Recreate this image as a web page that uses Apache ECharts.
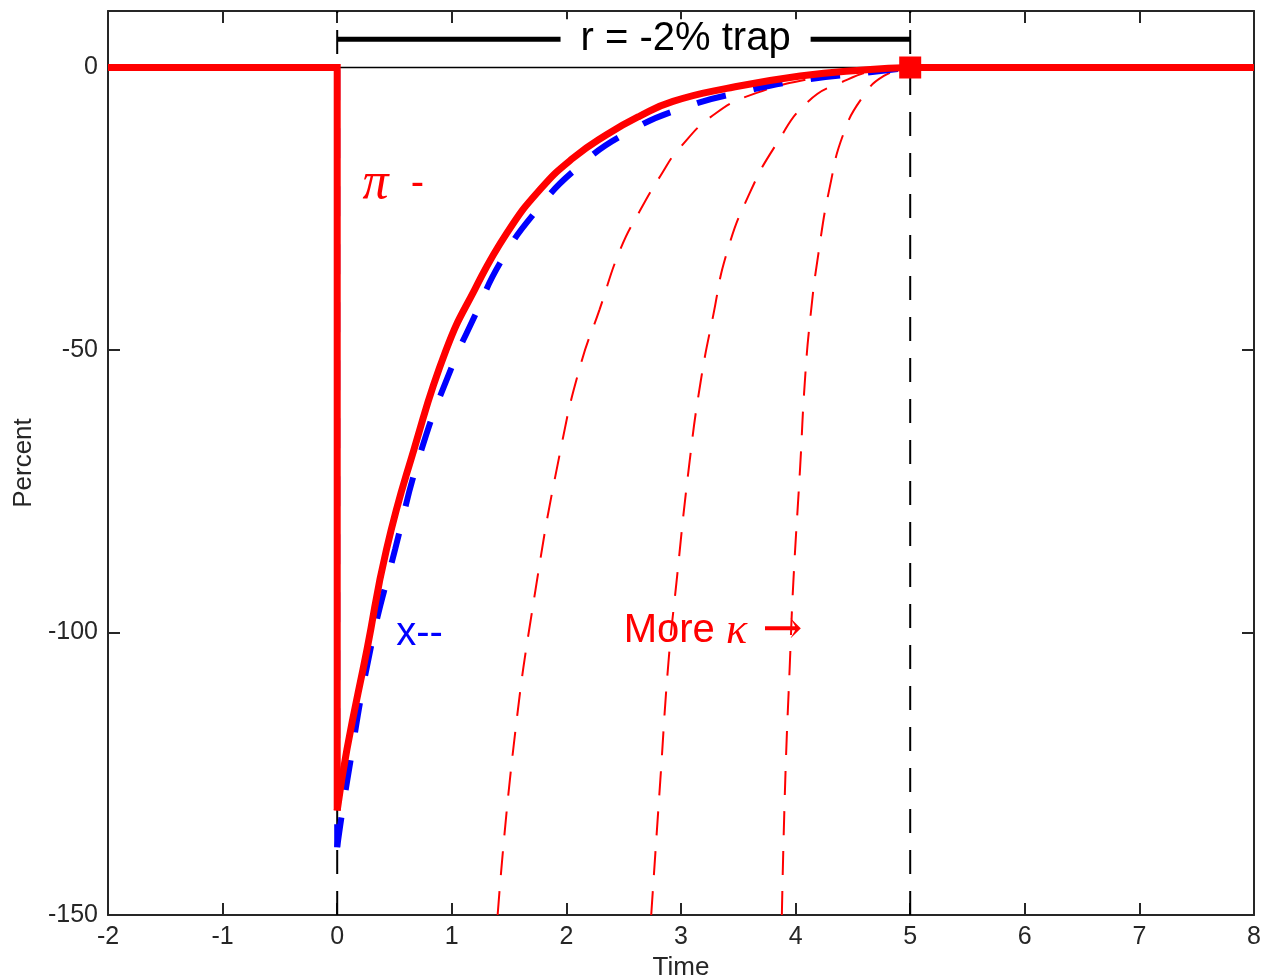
<!DOCTYPE html>
<html>
<head>
<meta charset="utf-8">
<script src="https://cdn.jsdelivr.net/npm/echarts@6/dist/echarts.min.js"></script>
<style>
  html, body { margin: 0; padding: 0; background: #fff; }
  #chart { width: 1264px; height: 976px; }
</style>
</head>
<body>
<div id="chart"></div>
<script>
(function () {
  // axis setup
  const xTicks = [-2, 8, 1];
  const yTicks = [-150, 10, 50];

  // pi (red solid), after the shock at t = 0
  const piX = [0, 0.085, 0.26, 0.43, 0.67, 0.95, 1.20, 1.48, 1.77, 2.06, 2.35, 2.64, 2.93, 3.4, 4.04, 4.62, 5];
  const piY = [-131.5, -120.7, -103, -85.3, -67.6, -50, -39.3, -29.3, -21.6, -16.0, -11.9, -8.6, -6.0, -3.7, -1.5, -0.4, 0];

  // x (blue dashed)
  const gapX = [0, 0.085, 0.29, 0.505, 0.73, 1.0, 1.20, 1.43, 1.74, 2.11, 2.55, 3.04, 3.56, 4.08, 4.62, 5];
  const gapY = [-138, -126.5, -103, -85.3, -68, -53, -44, -34.3, -25.3, -17.5, -11.3, -7.0, -4.2, -2.2, -0.9, 0];

  // pi for more kappa (thin red dashed)
  const k1X = [1.40, 1.54, 1.73, 1.95, 2.12, 2.29, 2.47, 2.64, 2.82, 2.99, 3.31, 3.66, 4.10, 4.62, 5];
  const k1Y = [-150, -120, -92.5, -67.6, -52.9, -42.8, -32.2, -25.4, -19.2, -14.2, -8.0, -4.5, -2.1, -0.35, 0];
  const k2X = [2.74, 2.82, 2.89, 2.96, 3.07, 3.17, 3.28, 3.40, 3.60, 3.84, 4.10, 4.39, 4.76, 5];
  const k2Y = [-150, -126, -105.4, -91.2, -70.6, -55.8, -44.0, -32.8, -22.2, -13.3, -6.2, -2.7, -0.35, 0];
  const k3X = [3.88, 3.91, 3.95, 3.98, 4.04, 4.08, 4.13, 4.20, 4.30, 4.42, 4.59, 4.77, 5];
  const k3Y = [-150, -126, -105.4, -91.2, -70.6, -55.8, -44.0, -32.8, -21.0, -11.6, -5.1, -1.5, 0];

  // steady state before / after the trap
  const beforeX = [-2, 0];
  const afterX = [5, 8];
  const steady = 0;
  const trapStart = 0;
  const trapEnd = 5;
  const trapBarY = 5;

  const axisColor = '#262626';
  const sans = '"Liberation Sans", Arial, Helvetica, sans-serif';
  const serif = '"Liberation Serif", "DejaVu Serif", serif';
  const arrowFont = '"DejaVu Serif", serif';

  function pairs(xs, ys) {
    return xs.map((x, i) => [x, ys[i]]);
  }

  function labelPoint(x, y, text, color, align, extra) {
    return {
      type: 'scatter',
      silent: true,
      z: 20,
      symbolSize: 1,
      itemStyle: { color: 'rgba(0,0,0,0)', opacity: 1 },
      data: [[x, y]],
      label: Object.assign({
        show: true,
        position: 'inside',
        align: align,
        verticalAlign: 'middle',
        formatter: text,
        color: color,
        opacity: 1,
        fontFamily: sans,
        fontSize: 40
      }, extra || {})
    };
  }

  const tickStyle = { inside: true, length: 12, lineStyle: { color: axisColor, width: 2 } };
  const lineAxis = { onZero: false, lineStyle: { color: axisColor, width: 2 } };

  const baseX = {
    type: 'value',
    min: xTicks[0],
    max: xTicks[1],
    interval: xTicks[2],
    splitLine: { show: false },
    axisLine: lineAxis,
    axisTick: tickStyle
  };
  const baseY = {
    type: 'value',
    min: yTicks[0],
    max: yTicks[1],
    interval: yTicks[2],
    splitLine: { show: false },
    axisLine: lineAxis,
    axisTick: tickStyle
  };

  const thinDash = { color: '#ff0000', width: 2, type: [24, 16] };
  const blueDash = { color: '#0000ff', width: 6, type: [30, 28] };
  const redSolid = { color: '#ff0000', width: 7 };
  const smooth = 0.5;

  const option = {
    animation: false,
    backgroundColor: '#fff',
    grid: { left: 108, right: 10, top: 11, bottom: 61, outerBoundsMode: 'none' },
    xAxis: [
      Object.assign({}, baseX, {
        position: 'bottom',
        name: 'Time',
        nameLocation: 'middle',
        nameGap: 33,
        nameTextStyle: { color: axisColor, fontFamily: sans, fontSize: 26 },
        axisLabel: { color: axisColor, fontFamily: sans, fontSize: 25, margin: 10 }
      }),
      Object.assign({}, baseX, { position: 'top', axisLabel: { show: false } })
    ],
    yAxis: [
      Object.assign({}, baseY, {
        position: 'left',
        name: 'Percent',
        nameLocation: 'middle',
        nameGap: 70,
        nameTextStyle: { color: axisColor, fontFamily: sans, fontSize: 26 },
        axisLabel: { color: axisColor, fontFamily: sans, fontSize: 25, margin: 10, showMaxLabel: false }
      }),
      Object.assign({}, baseY, { position: 'right', axisLabel: { show: false } })
    ],
    series: [
      // trap window edges
      {
        type: 'line', symbol: 'none', silent: true, z: 1,
        data: [[trapStart, yTicks[0]], [trapStart, yTicks[1]]],
        lineStyle: { color: '#000', width: 2, type: [24, 17] }
      },
      {
        type: 'line', symbol: 'none', silent: true, z: 1,
        data: [[trapEnd, yTicks[0]], [trapEnd, yTicks[1]]],
        lineStyle: { color: '#000', width: 2, type: [24, 17] }
      },
      {
        type: 'line', symbol: 'none', silent: true, z: 1,
        data: [[trapStart, steady], [trapEnd, steady]],
        lineStyle: { color: '#000', width: 1.5 }
      },
      {
        type: 'line', symbol: 'none', silent: true, z: 2,
        data: [[trapStart, trapBarY], [trapEnd, trapBarY]],
        lineStyle: { color: '#000', width: 5 }
      },
      // more kappa
      { type: 'line', symbol: 'none', smooth: smooth, z: 3, data: pairs(k1X, k1Y), lineStyle: thinDash },
      { type: 'line', symbol: 'none', smooth: smooth, z: 3, data: pairs(k2X, k2Y), lineStyle: thinDash },
      { type: 'line', symbol: 'none', smooth: smooth, z: 3, data: pairs(k3X, k3Y), lineStyle: thinDash },
      // x
      {
        type: 'line', symbol: 'none', z: 4,
        data: [[beforeX[0], steady], [beforeX[1], steady], [gapX[0], gapY[0]]],
        lineStyle: blueDash
      },
      { type: 'line', symbol: 'none', smooth: smooth, z: 4, data: pairs(gapX, gapY), lineStyle: blueDash },
      {
        type: 'line', symbol: 'none', z: 4,
        data: afterX.map(x => [x, steady]),
        lineStyle: blueDash
      },
      // pi
      {
        type: 'line', symbol: 'none', z: 5,
        data: [[beforeX[0], steady], [beforeX[1], steady], [piX[0], piY[0]]],
        lineStyle: Object.assign({ join: 'miter' }, redSolid)
      },
      { type: 'line', symbol: 'none', smooth: smooth, z: 5, data: pairs(piX, piY), lineStyle: redSolid },
      {
        type: 'line', symbol: 'none', z: 5,
        data: afterX.map(x => [x, steady]),
        lineStyle: redSolid
      },
      {
        type: 'scatter', symbol: 'rect', symbolSize: 22, z: 6,
        data: [[trapEnd, steady]],
        itemStyle: { color: '#ff0000', opacity: 1 }
      },
      // annotations
      labelPoint(3.04, trapBarY, 'r = -2% trap', '#000', 'center',
        { backgroundColor: '#fff', padding: [0, 20, 0, 20] }),
      labelPoint(0.22, -20.7, '{pi|π}  {d|-}', '#ff0000', 'left', {
        rich: {
          pi: { fontFamily: serif, fontStyle: 'italic', fontSize: 52, color: '#ff0000' },
          d: { fontFamily: sans, fontSize: 40, color: '#ff0000' }
        }
      }),
      labelPoint(0.515, -100.2, 'x--', '#0000ff', 'left'),
      labelPoint(2.5, -99.8, '{t|More }{k|κ}{a| →}', '#ff0000', 'left', {
        rich: {
          t: { fontFamily: sans, fontSize: 40, color: '#ff0000' },
          k: { fontFamily: serif, fontStyle: 'italic', fontSize: 44, color: '#ff0000' },
          a: { fontFamily: arrowFont, fontSize: 48, color: '#ff0000' }
        }
      })
    ]
  };

  const chart = echarts.init(document.getElementById('chart'));
  chart.setOption(option);
})();
</script>
</body>
</html>
